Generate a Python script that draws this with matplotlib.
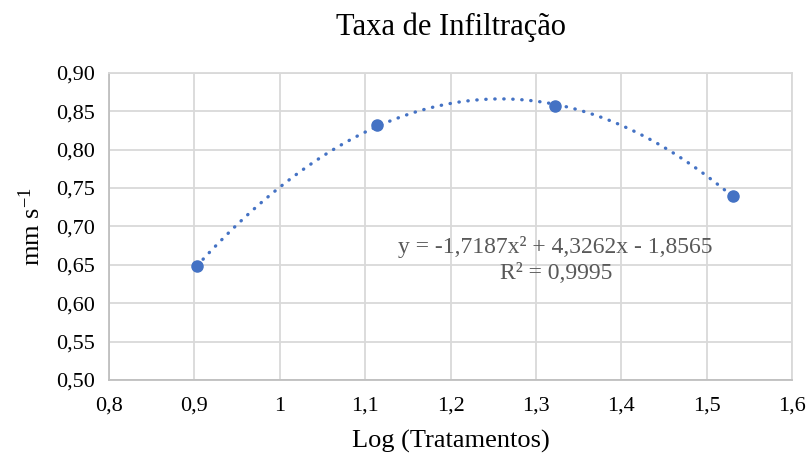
import numpy as np
import matplotlib
matplotlib.use("Agg")
import matplotlib.pyplot as plt

# Data
log_trat = [0.903, 1.114, 1.322, 1.531]
taxa = [0.648, 0.832, 0.857, 0.739]

# Trendline coefficients (as printed on the chart)
coef = [-1.7187, 4.3262, -1.8565]
r2_text = "R² = 0,9995"
eq_text = "y = -1,7187x² + 4,3262x - 1,8565"

x_ticks = [0.8, 0.9, 1.0, 1.1, 1.2, 1.3, 1.4, 1.5, 1.6]
x_labels = ["0,8", "0,9", "1", "1,1", "1,2", "1,3", "1,4", "1,5", "1,6"]
y_ticks = [0.50, 0.55, 0.60, 0.65, 0.70, 0.75, 0.80, 0.85, 0.90]
y_labels = ["0,50", "0,55", "0,60", "0,65", "0,70", "0,75", "0,80", "0,85", "0,90"]

plt.rcParams['font.family'] = ['Liberation Serif', 'DejaVu Serif']
plt.rcParams['mathtext.fontset'] = 'custom'
plt.rcParams['mathtext.rm'] = 'Liberation Serif'
plt.rcParams['mathtext.it'] = 'Liberation Serif:italic'

blue = '#4472C4'
grid_c = '#d9d9d9'

fig = plt.figure(figsize=(8.1, 4.57), dpi=100)
ax = fig.add_axes([0.1346, 0.1685, 0.8432, 0.6724])

# trendline
xs = np.linspace(min(log_trat), max(log_trat), 200)
ax.plot(xs, np.polyval(coef, xs), color=blue, lw=2.4,
        linestyle=(0, (0.1, 2.6)), dash_capstyle='round', zorder=3)
ax.plot(log_trat, taxa, 'o', color=blue, markersize=8, zorder=4)

ax.set_xlim(0.8, 1.6)
ax.set_ylim(0.50, 0.90)
ax.set_xticks(x_ticks)
ax.set_xticklabels(x_labels)
ax.set_yticks(y_ticks)
ax.set_yticklabels(y_labels)
ax.tick_params(length=0, labelsize=16, colors='#000000')
ax.tick_params(axis='x', pad=12)
ax.tick_params(axis='y', pad=10)
ax.grid(True, color=grid_c, lw=1.3)
ax.set_axisbelow(True)
for s in ['top', 'right']:
    ax.spines[s].set_color(grid_c)
    ax.spines[s].set_linewidth(1.3)
for s in ['left', 'bottom']:
    ax.spines[s].set_color('#bfbfbf')
    ax.spines[s].set_linewidth(1.3)

ax.set_title("Taxa de Infiltração", fontsize=22, pad=27)
ax.set_xlabel("Log (Tratamentos)", fontsize=19, labelpad=10)
ax.set_ylabel("mm s$^{-1}$", fontsize=19, labelpad=8)

ax.text(0.654, 0.39, eq_text + "\n" + r2_text, transform=ax.transAxes,
        ha='center', va='center', fontsize=17, color='#595959', linespacing=1.35)

fig.savefig("out.png", dpi=100)
